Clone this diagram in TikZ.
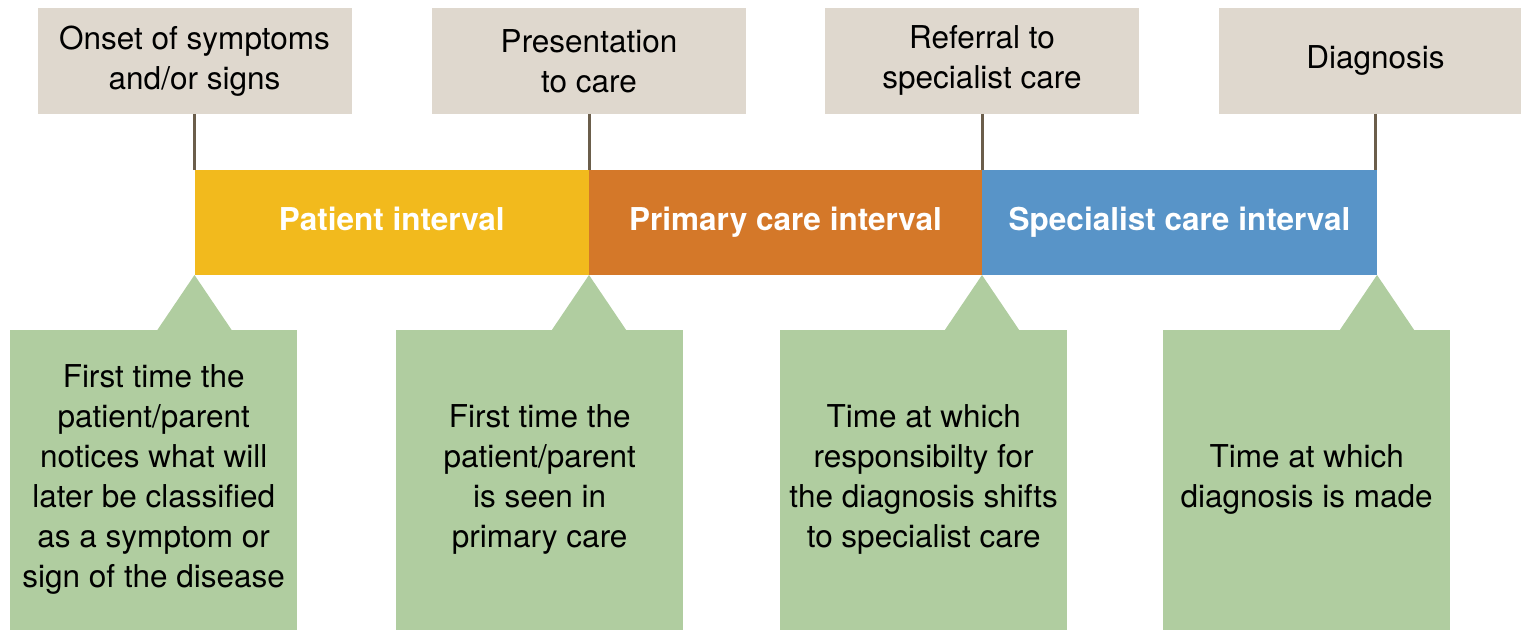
\documentclass[tikz,border=0pt]{standalone}
\usepackage{fontspec}
\setmainfont{TeX Gyre Heros}
\usetikzlibrary{positioning}
\definecolor{evgrey}{HTML}{DFD8CE}
\definecolor{patyellow}{HTML}{F2BA1D}
\definecolor{primorange}{HTML}{D47829}
\definecolor{specblue}{HTML}{5894C8}
\definecolor{notegreen}{HTML}{B0CDA0}
\definecolor{tickbrown}{HTML}{6B5E4B}
\begin{document}
\begin{tikzpicture}[x=1pt, y=1pt,
    eventbox/.style={fill=evgrey, minimum width=314pt, minimum height=106pt,
      inner sep=0pt, align=center, font=\fontsize{31.5}{40}\selectfont},
    intbox/.style={minimum height=105pt, inner sep=0pt, outer sep=0pt,
      text height=23pt, text depth=7pt,
      text=white, font=\fontsize{31.5}{40}\selectfont\bfseries},
    notebox/.style={fill=notegreen, minimum width=287pt, minimum height=300pt,
      inner sep=0pt, anchor=south west, align=center,
      font=\fontsize{31.5}{40}\selectfont},
    tick/.style={draw=tickbrown, line width=3pt}]
    \useasboundingbox (0,0) rectangle (1521,630);
    \clip (0,0) rectangle (1521,630);

    % intervals
    \node[intbox, fill=patyellow, minimum width=394.5pt, anchor=south west]
      (patient) at (194.5,355) {Patient interval};
    \node[intbox, fill=primorange, minimum width=393pt, right=0pt of patient]
      (primary) {Primary care interval};
    \node[intbox, fill=specblue, minimum width=395pt, right=0pt of primary]
      (specialist) {Specialist care interval};

    % events
    \node[eventbox, above=56pt of patient.north west] (onset)
      {Onset of symptoms\\and/or signs};
    \node[eventbox, above=56pt of primary.north west] (present)
      {Presentation\\to care};
    \node[eventbox, above=56pt of specialist.north west] (referral)
      {Referral to\\specialist care};
    \node[eventbox, above=56pt of specialist.north east, xshift=-1.5pt] (diag)
      {Diagnosis};

    \foreach \ev/\iv in {onset/patient, present/primary, referral/specialist, diag/specialist}
    \draw[tick] (\ev.south) -- (\ev.south |- \iv.north);

    % notes
    \node[notebox] (notice) at (10,0)
      {First time the\\patient/parent\\notices what will\\later be classified\\as a symptom or\\sign of the disease};
    \node[notebox] (seen) at (396,0)
      {First time the\\patient/parent\\is seen in\\primary care};
    \node[notebox] (shift) at (780,0)
      {Time at which\\responsibilty for\\the diagnosis shifts\\to specialist care};
    \node[notebox] (made) at (1163,0)
      {Time at which\\diagnosis is made};

    \foreach \c in {patient.south west, primary.south west, specialist.south west, specialist.south east}
    \fill[notegreen] (\c) -- ++(37.5,-55.5) -- ++(-75,0) -- cycle;

\end{tikzpicture}
\end{document}
